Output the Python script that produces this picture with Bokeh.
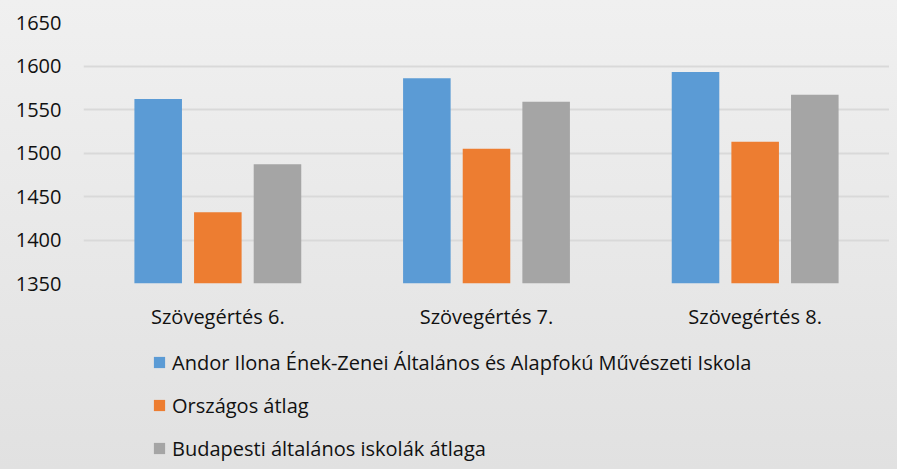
from bokeh.plotting import figure
from bokeh.layouts import column
from bokeh.models import FactorRange, FixedTicker, Legend, LegendItem, ColumnDataSource, Range1d
from bokeh.transform import dodge
from bokeh.embed import file_html
from bokeh.resources import INLINE

categories = ["Szövegértés 6.", "Szövegértés 7.", "Szövegértés 8."]
series_names = [
    "Andor Ilona Ének-Zenei Általános és Alapfokú Művészeti Iskola",
    "Országos átlag",
    "Budapesti általános iskolák átlaga",
]
andor = [1562, 1586, 1593]
orszagos = [1432, 1505, 1513]
budapest = [1487, 1559, 1567]
y_ticks = [1350, 1400, 1450, 1500, 1550, 1600, 1650]

colors = ["#5b9bd5", "#ed7d31", "#a5a5a5"]
FONT = "Open Sans"
TXT = "#111111"

src = ColumnDataSource(dict(cat=categories, a=andor, o=orszagos, b=budapest))

p = figure(
    x_range=FactorRange(*categories, range_padding=0),
    y_range=(1350, 1650),
    frame_width=806, frame_height=261,
    output_backend="svg", toolbar_location=None,
    min_border_left=75, min_border_right=0, min_border_top=14, min_border_bottom=62,
)
p.background_fill_alpha = 0
p.border_fill_alpha = 0
p.outline_line_color = None

offs = [-0.222, 0.0, 0.222]
for field, off, col in zip(["a", "o", "b"], offs, colors):
    p.vbar(x=dodge("cat", off, range=p.x_range), top=field, bottom=1350, width=0.177,
           source=src, fill_color=col, line_color=None)

p.yaxis.ticker = FixedTicker(ticks=y_ticks)
p.yaxis.axis_line_color = None
p.yaxis.major_tick_line_color = None
p.yaxis.minor_tick_line_color = None
p.yaxis.major_tick_out = 0
p.yaxis.major_tick_in = 0
p.yaxis.major_label_standoff = 22
p.yaxis.major_label_text_font = FONT
p.yaxis.major_label_text_font_size = "20px"
p.yaxis.major_label_text_color = TXT

p.xaxis.axis_line_color = None
p.xaxis.major_tick_line_color = None
p.xaxis.major_tick_out = 0
p.xaxis.major_tick_in = 0
p.xaxis.major_label_standoff = 19
p.xaxis.major_label_text_font = FONT
p.xaxis.major_label_text_font_size = "20px"
p.xaxis.major_label_text_color = TXT

p.xgrid.grid_line_color = None
p.ygrid.ticker = FixedTicker(ticks=y_ticks)
p.ygrid.grid_line_color = "#d9d9d9"
p.ygrid.grid_line_width = 2

# legend-only figure below the chart (its zero-width bars lie outside its visible range)
q = figure(
    width=881, height=116,
    x_range=Range1d(0, 1), y_range=Range1d(0, 1),
    output_backend="svg", toolbar_location=None,
    min_border=0,
)
q.axis.visible = False
q.grid.visible = False
q.outline_line_color = None
q.background_fill_alpha = 0
q.border_fill_alpha = 0
leg_rs = [q.vbar(x=0.5, top=field, bottom=1450, width=0, source=src,
                 fill_color=c, line_color=None)
          for field, c in zip(["a", "o", "b"], colors)]

legend = Legend(
    items=[LegendItem(label=n, renderers=[r]) for n, r in zip(series_names, leg_rs)],
    location=(69, -2), margin=0, padding=0,
    glyph_width=14, glyph_height=14, label_standoff=6,
    label_height=30, spacing=13,
    label_text_font=FONT, label_text_font_size="20px", label_text_color=TXT,
    background_fill_alpha=0, border_line_color=None,
)
q.add_layout(legend)

layout = column(p, q, spacing=0)

html = file_html(layout, INLINE)
style = ("<style>html{height:100%;background:linear-gradient(to bottom,#f0f0f0,#e1e1e1);}"
         "body{margin:8px;}</style>")
html = html.replace("</head>", style + "</head>", 1)
open("out.html", "w").write(html)
